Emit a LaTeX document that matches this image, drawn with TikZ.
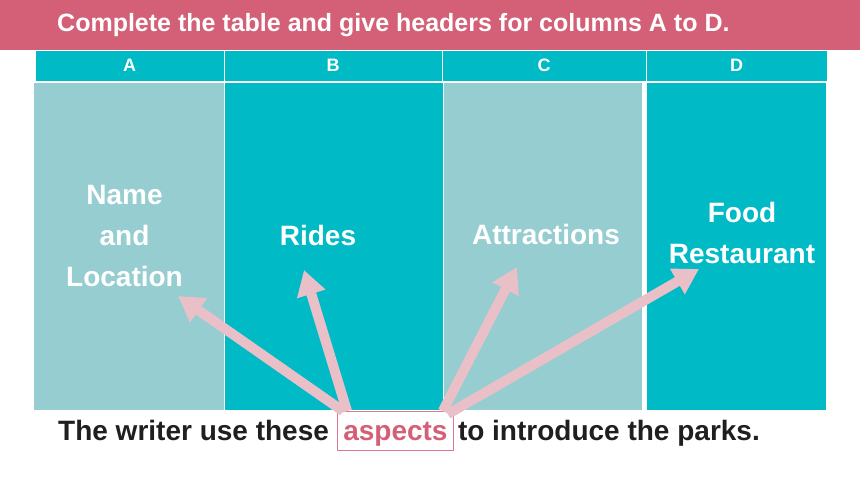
\documentclass[tikz,border=0pt]{standalone}
\usepackage{fontspec}
\setmainfont{Liberation Sans}
\usetikzlibrary{arrows.meta,positioning}
\definecolor{bannerpink}{RGB}{212,96,119}
\definecolor{tealdeep}{RGB}{0,186,198}
\definecolor{tealpale}{RGB}{150,205,208}
\definecolor{pointerpink}{RGB}{234,192,200}
\definecolor{boxpink}{RGB}{222,120,142}
\definecolor{inkdark}{RGB}{33,30,31}
\newcommand\cellfont{\fontsize{28}{41}\selectfont\bfseries}
\newcommand\headfont{\fontsize{18}{22}\selectfont\bfseries}

\begin{document}
\begin{tikzpicture}[x=1pt,y=-1pt,
		cell/.style={draw=white, line width=1pt, inner sep=0pt, outer sep=0pt, anchor=north west},
		headcell/.style={cell, fill=tealdeep, minimum height=31.5pt, text=white, font=\headfont, text depth=2.5pt},
		celltext/.style={text=white, font=\cellfont, align=center, inner sep=0pt},
		pointer/.style={line width=10pt, pointerpink, -{Triangle[length=25pt,width=28pt]}}]
			\useasboundingbox (0,0) rectangle (860,484);
			\node (banner) at (0,0)[anchor=north west, fill=bannerpink, minimum width=860pt, minimum height=50pt, inner sep=0pt] {};
			\node (title) at (57,32)[anchor=base west, inner sep=0pt, text=white, font=\fontsize{25}{30}\selectfont\bfseries] {Complete the table and give headers for columns A to D.};
			\node (headA) at (35,50.5)[headcell, minimum width=189pt] {A};
			\node (headB) at (224,50.5)[headcell, minimum width=218pt] {B};
			\node (headC) at (442,50.5)[headcell, minimum width=204pt] {C};
			\node (headD) at (646,50.5)[headcell, minimum width=181pt] {D};
			\node (bodyA) at (33,82.5)[cell, fill=tealpale, minimum width=191pt, minimum height=327.5pt] {};
			\node (bodyB) at (224.5,82.5)[cell, fill=tealdeep, minimum width=218.5pt, minimum height=327.5pt] {};
			\node (bodyC) at (443,82.5)[cell, fill=tealpale, minimum width=199pt, minimum height=327.5pt] {};
			\node (bodyD) at (646,82.5)[cell, fill=tealdeep, minimum width=180pt, minimum height=327.5pt] {};
			\node (nameloc) at (124.5,236)[celltext] {Name\\and\\Location};
			\node (rides) at (318,245)[celltext, anchor=base] {Rides};
			\node (attractions) at (546,244)[celltext, anchor=base] {Attractions};
			\node (food) at (742,232.5)[celltext] {Food\\Restaurant};
			\node (lead) at (58,440)[anchor=base west, inner sep=0pt, font=\cellfont, text=inkdark] {The writer use these};
			\node (aspects) at (337,440)[anchor=base west, draw=boxpink, line width=0.8pt, minimum width=116pt, inner xsep=0pt, inner ysep=6.5pt, text height=22pt, text depth=4pt, font=\cellfont, text=bannerpink] {aspects};
			\node (rest) at (aspects.base east)[anchor=base west, xshift=4pt, inner sep=0pt, font=\cellfont, text=inkdark] {to introduce the parks.};
			\coordinate (tipname) at (178,296);
			\coordinate (tiprides) at (304,270);
			\coordinate (tipattractions) at (517,267);
			\coordinate (tipfood) at (699,269);
			\draw[pointer] ([xshift=6pt]aspects.north west) -- (tipname);
			\draw[pointer] ([xshift=10pt]aspects.north west) -- (tiprides);
			\draw[pointer] ([xshift=-11pt]aspects.north east) -- (tipattractions);
			\draw[pointer] ([xshift=-6pt,yshift=-3pt]aspects.north east) -- (tipfood);
		\end{tikzpicture}
\end{document}
